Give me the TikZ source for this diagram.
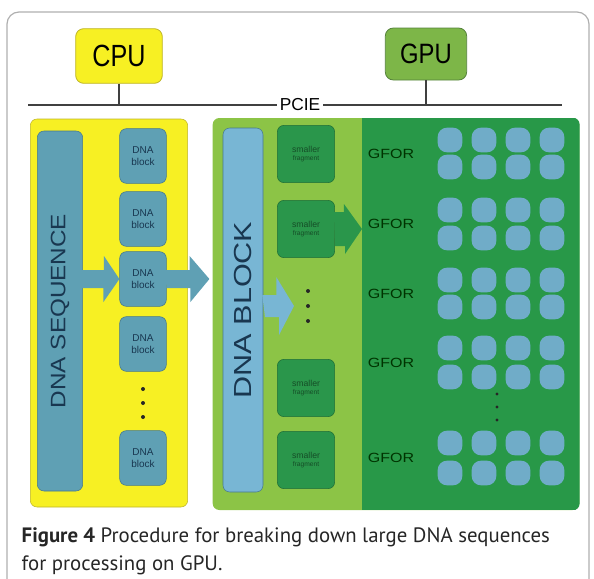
\documentclass[tikz,border=0pt]{standalone}
\usepackage{fontspec}
\setmainfont{Liberation Sans}
\newfontfamily\capfont{PT Sans}
\usetikzlibrary{positioning}
\usetikzlibrary{calc}

\definecolor{hostyellow}{RGB}{247,240,35}
\definecolor{hostedge}{RGB}{190,180,40}
\definecolor{devgreen}{RGB}{125,182,72}
\definecolor{devedge}{RGB}{85,130,60}
\definecolor{lightgreen}{RGB}{140,196,70}
\definecolor{gridgreen}{RGB}{40,152,72}
\definecolor{seqblue}{RGB}{95,160,180}
\definecolor{seqedge}{RGB}{70,120,140}
\definecolor{barblue}{RGB}{120,182,212}
\definecolor{fragfill}{RGB}{42,150,75}
\definecolor{fragedge}{RGB}{30,110,55}
\definecolor{corefill}{RGB}{112,172,200}
\definecolor{inkdark}{RGB}{25,55,80}
\definecolor{framegray}{RGB}{175,175,175}

\tikzset{
	hostbox/.style={draw=hostedge, fill=hostyellow, rounded corners=6pt, line width=0.6pt},
	panel/.style={rounded corners=5pt, inner sep=0pt},
	seqbar/.style={draw=seqedge, fill=seqblue, rounded corners=5pt, inner sep=0pt, text=inkdark},
	dnablock/.style={draw=seqedge, fill=seqblue, rounded corners=5pt, minimum width=35pt, minimum height=41pt,
		inner sep=0pt, align=center, text=inkdark, font=\fontsize{7.5}{9}\selectfont},
	fragbox/.style={draw=fragedge, fill=fragfill, rounded corners=5pt, minimum width=43pt, minimum height=43pt,
		inner sep=0pt, align=center, text=fragedge!70!black, font=\fontsize{6.5}{7}\selectfont},
	core/.style={fill=corefill, rounded corners=7pt, minimum size=18.5pt, inner sep=0pt},
	gforlabel/.style={text=black!80!green, font=\fontsize{10}{12}\selectfont},
	dotmark/.style={circle, fill=black!85, inner sep=0pt, minimum size=3pt},
}

\begin{document}
\begin{tikzpicture}[x=0.75pt,y=-0.75pt]
		\useasboundingbox (0,0) rectangle (594,579);
		\draw [framegray, line width=0.9pt, rounded corners=9pt] (7,12) rectangle (589,592);

		% host and device with the bus
		\node [hostbox, minimum width=65pt, minimum height=41pt] (cpu) at (119,56) {\fontsize{23}{24}\selectfont\scalebox{0.82}[1]{CPU}};
		\node [hostbox, draw=devedge, fill=devgreen, minimum width=61pt, minimum height=39pt] (gpu) at (426,54) {\fontsize{21}{22}\selectfont\scalebox{0.85}[1]{GPU}};
		\coordinate (busleft) at (28,105);
		\coordinate (busright) at (562,105);
		\node [fill=white, inner sep=2pt, font=\fontsize{13}{14}\selectfont] (pcie) at (300,105) {PCIE};
		\draw [black!75, line width=1.2pt] (busleft) -- (pcie) -- (busright);
		\draw [black!75, line width=1.2pt] (cpu) -- (cpu |- busleft);
		\draw [black!75, line width=1.2pt] (gpu) -- (gpu |- busright);

		% host memory
		\node [panel, draw=hostedge, fill=hostyellow, minimum width=118pt, minimum height=291pt] (hostpanel) at (109,313) {};
		\node [seqbar, minimum width=34pt, minimum height=270pt] (sequence) at (60,311)
			{\rotatebox{90}{\fontsize{15.7}{16}\selectfont\scalebox{1.16}[1]{DNA SEQUENCE}}};
		\node [dnablock] (blk1) at (143,156) {DNA\\block};
		\node [dnablock] (blk2) at (143,219) {DNA\\block};
		\node [dnablock] (blk3) at (143,279) {DNA\\block};
		\node [dnablock] (blk4) at (143,344) {DNA\\block};
		\node [dnablock] (blk5) at (143,458) {DNA\\block};
		\node [dotmark] (bd1) at (143,389) {};
		\node [dotmark] (bd2) at (143,403) {};
		\node [dotmark] (bd3) at (143,417) {};

		% device memory
		\node [panel, fill=lightgreen, minimum width=275pt, minimum height=294pt] (devpanel) at (396,314) {};
		\coordinate (gridleft) at (362,118);
		\begin{scope}
			\clip [rounded corners=5pt] (devpanel.north west) rectangle (devpanel.south east);
			\fill [gridgreen] (gridleft) rectangle (devpanel.south east);
		\end{scope}
		\node [seqbar, fill=barblue, minimum width=30pt, minimum height=273pt] (dnablock) at (243,310)
			{\rotatebox{90}{\fontsize{18.5}{19}\selectfont\scalebox{1.24}[1]{DNA BLOCK}}};
		\node [fragbox] (frag1) at (306,154) {smaller\\[-1pt]{\tiny fragment}};
		\node [fragbox] (frag2) at (306,229) {smaller\\[-1pt]{\tiny fragment}};
		\node [fragbox] (frag3) at (306,388) {smaller\\[-1pt]{\tiny fragment}};
		\node [fragbox] (frag4) at (306,460) {smaller\\[-1pt]{\tiny fragment}};
		\node [dotmark] (fd1) at (308,291) {};
		\node [dotmark] (fd2) at (308,306) {};
		\node [dotmark] (fd3) at (308,321) {};

		% block arrows
		\fill [seqblue] (sequence.east |- blk3) ++(-1,-9) -- ++(22,0) -- ++(0,-14) -- (blk3.west) -- ++(-16,23) -- ++(0,-14) -- ++(-22,0) -- cycle;
		\fill [seqblue] (blk3.east) ++(-1,-9) -- ++(24,0) -- ++(0,-14) -- ($(devpanel.west |- blk3)+(-3,0)$) -- ++(-19,23) -- ++(0,-14) -- ++(-24,0) -- cycle;
		\fill [barblue] (dnablock.east |- fd2) ++(-1,-11) -- ++(14,0) -- ++(0,-18) -- ($(fd2)+(-14,0)$) -- ++(-15,29) -- ++(0,-18) -- ++(-14,0) -- cycle;
		\fill [fragfill] (frag2.east) ++(-1,-17) -- ++(10,0) -- ++(0,-8) -- (gridleft |- frag2) -- ++(-17,25) -- ++(0,-8) -- ++(-10,0) -- cycle;

		% thread grid
		\foreach \g/\ya/\yb in {1/140/167, 2/210/238, 3/280/307, 4/348/377, 5/443/473} {
			\node [gforlabel] (gfor\g) at (391,{(\ya+\yb)/2}) {\scalebox{1.2}[1]{GFOR}};
			\foreach \cx [count=\c] in {450,484,518,552} {
				\node [core] (core\g a\c) at (\cx,\ya) {};
				\node [core] (core\g b\c) at (\cx,\yb) {};
			}
		}
		\node [dotmark, minimum size=2.5pt] (gd1) at (497,394) {};
		\node [dotmark, minimum size=2.5pt] (gd2) at (497,407) {};
		\node [dotmark, minimum size=2.5pt] (gd3) at (497,420) {};

		% caption
		\node [anchor=west, align=left, text=black!85, font=\capfont\fontsize{15.6}{21}\selectfont] (caption) at (17,551)
			{\textbf{Figure 4} Procedure for breaking down large DNA sequences\\for processing on GPU.};
\end{tikzpicture}
\end{document}
